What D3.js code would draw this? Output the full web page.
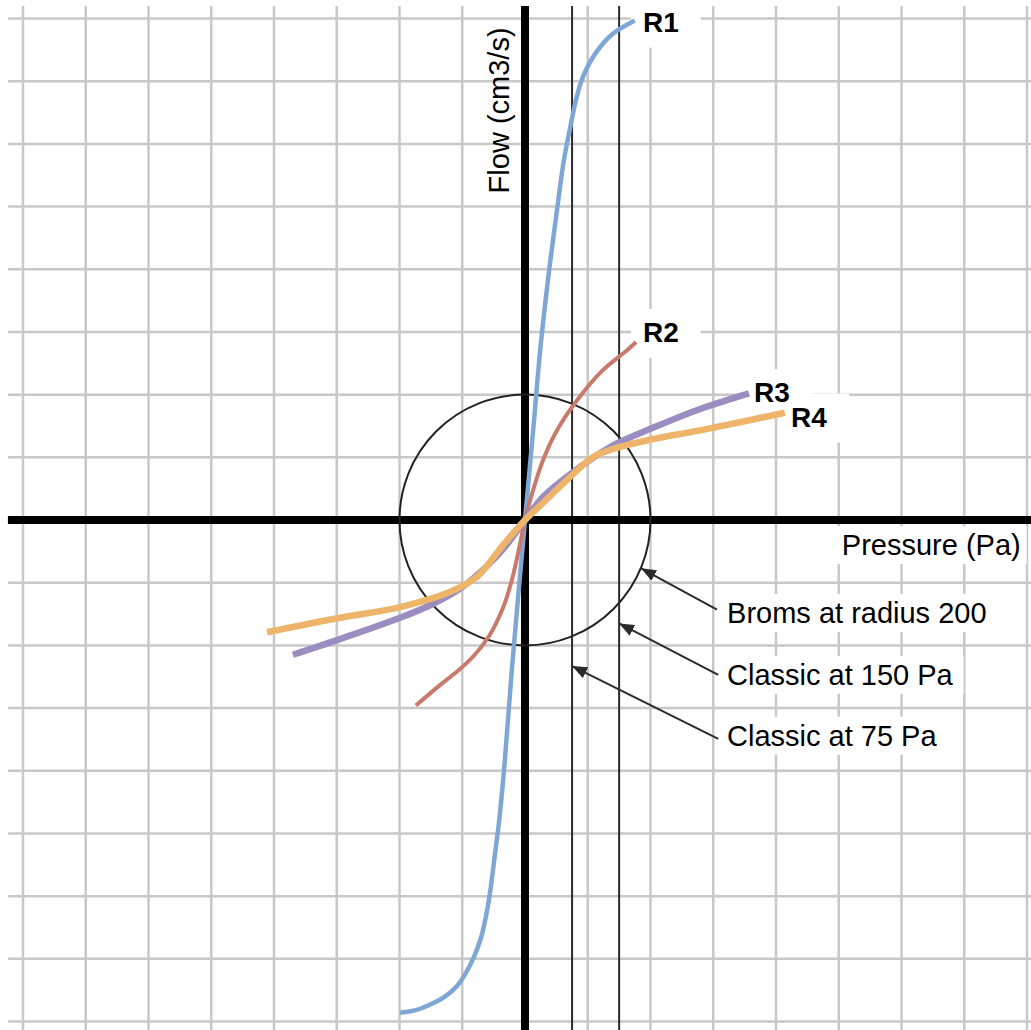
<!DOCTYPE html>
<html>
<head>
<meta charset="utf-8">
<script src="https://cdn.jsdelivr.net/npm/d3@7"></script>
<style>
  body { margin: 0; background: #fff; }
  text { font-family: "Liberation Sans", Arial, Helvetica, sans-serif; }
</style>
</head>
<body>
<div id="chart"></div>
<script>
// Flow vs pressure for four restrictors (R1..R4) with the reference marks.
// One grid cell = 100 units on both axes (pressure in Pa).

let gridSteps = [-800, -700, -600, -500, -400, -300, -200, -100, 0, 100, 200, 300, 400, 500, 600, 700, 800];

// Curves: pressure (x) and flow (y).
let r1Pressure = [-199, -171, -147, -126, -108, -94, -81, -70, -61, -54, -48, -41, -32, -21, 0, 13, 25, 40, 53, 62, 72, 81, 92, 112, 139, 175];
let r1Flow     = [-786, -781, -771, -759, -743, -722, -696, -666, -626, -582, -534, -478, -382, -239, 0, 143, 279, 411, 510, 574, 626, 669, 706, 744, 775, 797];

let r2Pressure = [-174, -135, -105, -80, -56, -35, -21, -10, 0, 13, 29, 51, 83, 124, 163, 177];
let r2Flow     = [-296, -263, -239, -215, -183, -140, -96, -48, 0, 48, 96, 143, 191, 239, 271, 284];

let r3Pressure = [-370, -295, -199, -147, -104, -56, -32, 0, 29, 72, 108, 148, 199, 279, 357];
let r3Flow     = [-215, -190, -156, -134, -110, -69, -43, 0, 37, 73, 99, 123, 145, 177, 202];

let r4Pressure = [-411, -295, -199, -120, -77, -35, 0, 19, 67, 108, 136, 199, 279, 414];
let r4Flow     = [-179, -156, -139, -115, -91, -40, 0, 18, 64, 100, 112, 128, 143, 171];

let seriesNames  = ["R1", "R2", "R3", "R4"];
let seriesColors = ["#7fa7d5", "#c87a6c", "#9b8dc0", "#eeb46a"];
let seriesWidths = [4.5, 4, 6.5, 6.5];
let labelPressure = [188, 188, 365, 424];
let labelFlow     = [779, 284, 188, 149];

// Reference marks.
let classicLevels = [75, 150];
let bromsRadius = 200;
let noteText      = ["Broms at radius 200", "Classic at 150 Pa", "Classic at 75 Pa"];
let noteFrom      = [[306, -143], [308, -247], [308, -349]];
let noteTo        = [[185, -77], [150, -165], [75, -233]];
let noteTextX     = 322;
let noteTextY     = [-164, -263, -360];

let W = 1031, H = 1030;

let svg = d3.select("#chart")
            .append("svg")
            .attr("width", W)
            .attr("height", H);

svg.append("rect").attr("width", W).attr("height", H).attr("fill", "#fff");

let x = d3.scaleLinear().domain([-800, 800]).range([23, 1027]);
let y = d3.scaleLinear().domain([-800, 800]).range([1021.5, 18.5]);

// Visible extent of the paper grid (data units).
let xMin = -824, xMax = 812, yMin = -816, yMax = 820;

svg.append("defs").append("marker")
   .attr("id", "head")
   .attr("markerUnits", "userSpaceOnUse")
   .attr("markerWidth", 16)
   .attr("markerHeight", 12)
   .attr("refX", 15)
   .attr("refY", 6)
   .attr("orient", "auto")
   .append("path")
   .attr("d", "M0,0 L15,6 L0,12 Z")
   .attr("fill", "#2b2b2b");

// Grid.
let grid = svg.append("g").attr("stroke", "#c8c8c8").attr("stroke-width", 2.5);
grid.selectAll("line.v")
    .data(gridSteps)
    .enter()
    .append("line")
    .attr("x1", d => x(d)).attr("x2", d => x(d))
    .attr("y1", y(yMax)).attr("y2", y(yMin));
grid.selectAll("line.h")
    .data(gridSteps)
    .enter()
    .append("line")
    .attr("y1", d => y(d)).attr("y2", d => y(d))
    .attr("x1", x(xMin)).attr("x2", x(xMax));

// Layer for white label boxes sits above the grid.
let boxes = svg.append("g");

// Classic pressure lines.
svg.append("g")
   .selectAll("line")
   .data(classicLevels)
   .enter()
   .append("line")
   .attr("x1", d => x(d)).attr("x2", d => x(d))
   .attr("y1", y(yMax)).attr("y2", y(yMin))
   .attr("stroke", "#2b2b2b")
   .attr("stroke-width", 2);

// Main axes.
svg.append("line")
   .attr("x1", x(xMin)).attr("x2", x(xMax))
   .attr("y1", y(0)).attr("y2", y(0))
   .attr("stroke", "#000").attr("stroke-width", 8);
svg.append("line")
   .attr("x1", x(0)).attr("x2", x(0))
   .attr("y1", y(yMax)).attr("y2", y(yMin))
   .attr("stroke", "#000").attr("stroke-width", 8);

// Broms circle.
svg.append("circle")
   .attr("cx", x(0))
   .attr("cy", y(0))
   .attr("r", x(bromsRadius) - x(0))
   .attr("fill", "none")
   .attr("stroke", "#222")
   .attr("stroke-width", 2);

// Curves.
let series = [
  r1Pressure.map((p, i) => ({p: p, f: r1Flow[i]})),
  r2Pressure.map((p, i) => ({p: p, f: r2Flow[i]})),
  r3Pressure.map((p, i) => ({p: p, f: r3Flow[i]})),
  r4Pressure.map((p, i) => ({p: p, f: r4Flow[i]}))
];

let line = d3.line()
             .x(d => x(d.p))
             .y(d => y(d.f))
             .curve(d3.curveCatmullRom.alpha(0.5));

svg.append("g")
   .selectAll("path")
   .data(series)
   .enter()
   .append("path")
   .attr("d", line)
   .attr("fill", "none")
   .attr("stroke", (d, i) => seriesColors[i])
   .attr("stroke-width", (d, i) => seriesWidths[i])
   .attr("stroke-linecap", "butt");

// Helper: text with a white box behind it.
function boxedText(tx, ty, str, size, weight, pad, anchor) {
  let t = svg.append("text")
             .attr("x", tx)
             .attr("y", ty)
             .attr("font-size", size)
             .attr("font-weight", weight)
             .attr("text-anchor", anchor || "start")
             .attr("fill", "#000")
             .text(str);
  let b = t.node().getBBox();
  boxes.append("rect")
       .attr("x", b.x - pad[3])
       .attr("y", b.y - pad[0])
       .attr("width", b.width + pad[1] + pad[3])
       .attr("height", b.height + pad[0] + pad[2])
       .attr("fill", "#fff");
  return t;
}

// Series labels.
seriesNames.forEach((name, i) => {
  boxedText(x(labelPressure[i]), y(labelFlow[i]), name, 28, "bold", [8, 22, 10, 12]);
});

// Notes with arrows.
noteText.forEach((str, i) => {
  svg.append("line")
     .attr("x1", x(noteFrom[i][0])).attr("y1", y(noteFrom[i][1]))
     .attr("x2", x(noteTo[i][0])).attr("y2", y(noteTo[i][1]))
     .attr("stroke", "#2b2b2b")
     .attr("stroke-width", 2)
     .attr("marker-end", "url(#head)");
  boxedText(x(noteTextX), y(noteTextY[i]), str, 29, "normal", [3, 10, 3, 10]);
});

// Axis titles.
boxedText(x(790), y(-56), "Pressure (Pa)", 29, "normal", [3, 6, 3, 6], "end");

svg.append("text")
   .attr("transform", "translate(" + (x(0) - 16) + "," + y(521) + ") rotate(-90)")
   .attr("font-size", 29)
   .attr("fill", "#000")
   .text("Flow (cm3/s)");
</script>
</body>
</html>
